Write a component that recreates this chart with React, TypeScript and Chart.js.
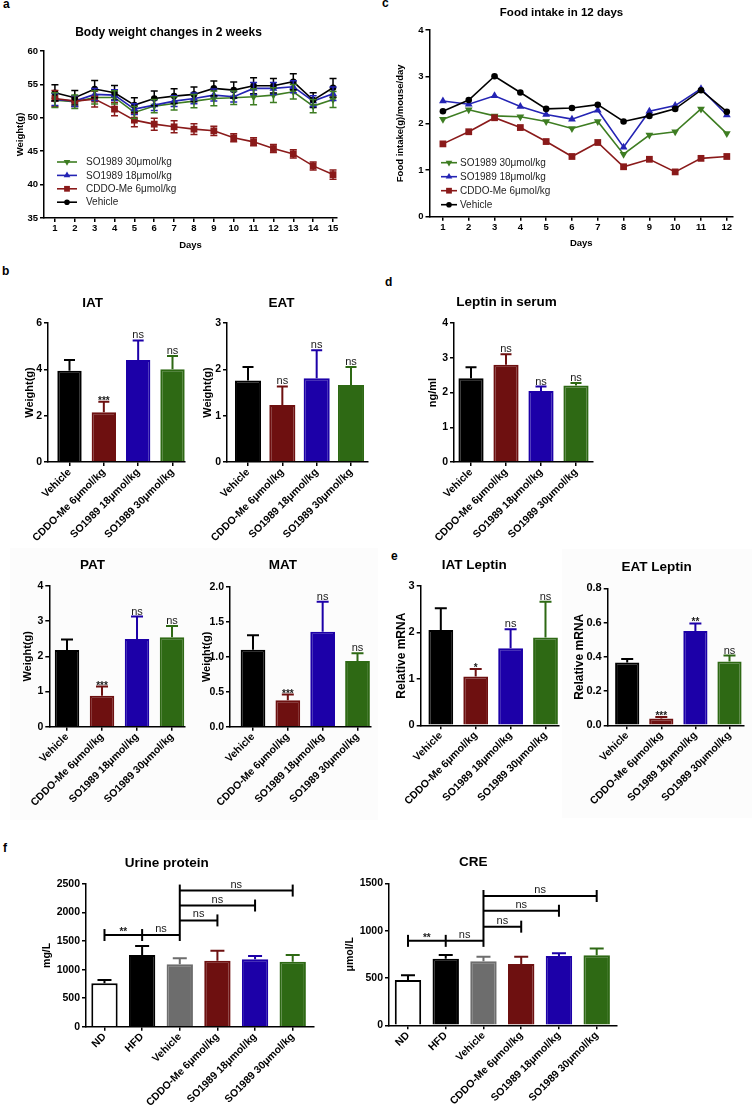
import React, { useEffect, useRef } from 'react';
import { Chart, registerables } from 'chart.js';
import { drawPoint } from 'chart.js/helpers';

Chart.register(...registerables);

const FONT = "'Liberation Sans', Arial, Helvetica, sans-serif";

// ---------------- data ----------------
const seriesNames = ['Vehicle', 'CDDO-Me 6μmol/kg', 'SO1989 18μmol/kg', 'SO1989 30μmol/kg'];
const lineColors = ['#000000', '#8a1a1a', '#2424b4', '#3e7d22'];
const pointStyles = ['circle', 'rect', 'triangle', 'triangle'];
const pointRotations = [0, 0, 0, 180];
const pointRadii = [3.3, 4.8, 4.5, 4.5];

// a: body weight (g), days 1-15, mean and SEM
const days15 = [1, 2, 3, 4, 5, 6, 7, 8, 9, 10, 11, 12, 13, 14, 15];
const bwVehicle = [53.75, 53.0, 54.3, 53.75, 51.9, 52.9, 53.25, 53.5, 54.4, 54.15, 54.8, 54.8, 55.4, 52.65, 54.5];
const bwVehicleErr = [1.2, 1.1, 1.3, 1.1, 1.1, 1.1, 1.1, 1.1, 1.1, 1.2, 1.2, 1.1, 1.2, 1.1, 1.4];
const bwCddo = [52.9, 52.5, 52.8, 51.3, 49.65, 49.05, 48.65, 48.3, 48.05, 47.0, 46.4, 45.4, 44.6, 42.8, 41.5];
const bwCddoErr = [1.2, 0.8, 1.2, 1.0, 1.0, 0.9, 0.9, 0.8, 0.7, 0.6, 0.6, 0.6, 0.6, 0.6, 0.7];
const bwSo18 = [52.75, 52.5, 53.5, 53.4, 51.3, 51.9, 52.5, 52.9, 53.4, 53.15, 54.4, 54.4, 54.65, 52.5, 53.6];
const bwSo18Err = [0.9, 0.8, 0.9, 0.8, 0.8, 0.8, 0.8, 0.8, 0.9, 0.8, 0.9, 0.9, 0.9, 0.8, 1.0];
const bwSo30 = [52.65, 52.4, 53.05, 53.05, 50.8, 51.75, 52.15, 52.5, 52.9, 53.0, 53.15, 53.4, 53.9, 51.75, 52.75];
const bwSo30Err = [1.1, 1.0, 1.0, 1.0, 0.9, 1.0, 1.0, 1.0, 1.1, 1.0, 1.2, 1.1, 1.1, 1.0, 1.2];
const bwTicks = [35, 40, 45, 50, 55, 60];

// c: food intake (g/mouse/day), days 1-12
const days12 = [1, 2, 3, 4, 5, 6, 7, 8, 9, 10, 11, 12];
const fiVehicle = [2.26, 2.5, 3.01, 2.66, 2.31, 2.33, 2.4, 2.04, 2.16, 2.31, 2.71, 2.25];
const fiCddo = [1.56, 1.82, 2.12, 1.91, 1.61, 1.29, 1.59, 1.07, 1.23, 0.96, 1.25, 1.29];
const fiSo18 = [2.48, 2.41, 2.59, 2.36, 2.19, 2.09, 2.28, 1.49, 2.26, 2.38, 2.74, 2.18];
const fiSo30 = [2.09, 2.29, 2.16, 2.14, 2.04, 1.89, 2.04, 1.34, 1.75, 1.82, 2.31, 1.78];
const fiTicks = [0, 1, 2, 3, 4];

// b, d, e: four treatment groups
const groups4 = ['Vehicle', 'CDDO-Me 6μmol/kg', 'SO1989 18μmol/kg', 'SO1989 30μmol/kg'];
const fill4 = ['#000000', '#6e1010', '#1c00a8', '#2e6914'];

const iatMean = [3.94, 2.15, 4.4, 4.0];
const iatSem = [0.46, 0.45, 0.85, 0.58];
const iatSig = ['', '***', 'ns', 'ns'];
const iatTicks = [0, 2, 4, 6];

const eatMean = [1.76, 1.23, 1.81, 1.66];
const eatSem = [0.29, 0.4, 0.6, 0.39];
const eatSig = ['', 'ns', 'ns', 'ns'];
const eatTicks = [0, 1, 2, 3];

const leptinMean = [2.41, 2.8, 2.04, 2.2];
const leptinSem = [0.32, 0.3, 0.13, 0.07];
const leptinSig = ['', 'ns', 'ns', 'ns'];
const leptinTicks = [0, 1, 2, 3, 4];

const patMean = [2.18, 0.88, 2.49, 2.54];
const patSem = [0.3, 0.26, 0.64, 0.32];
const patSig = ['', '***', 'ns', 'ns'];
const patTicks = [0, 1, 2, 3, 4];

const matMean = [1.1, 0.38, 1.36, 0.94];
const matSem = [0.21, 0.08, 0.43, 0.11];
const matSig = ['', '***', 'ns', 'ns'];
const matTicks = [0, 0.5, 1.0, 1.5, 2.0];

const iatLepMean = [2.05, 1.05, 1.66, 1.89];
const iatLepSem = [0.47, 0.16, 0.41, 0.77];
const iatLepSig = ['', '*', 'ns', 'ns'];
const iatLepTicks = [0, 1, 2, 3];

const eatLepMean = [0.366, 0.04, 0.55, 0.372];
const eatLepSem = [0.021, 0.008, 0.045, 0.035];
const eatLepSig = ['', '***', '**', 'ns'];
const eatLepTicks = [0, 0.2, 0.4, 0.6, 0.8];

// f: six groups
const groups6 = ['ND', 'HFD', 'Vehicle', 'CDDO-Me 6μmol/kg', 'SO1989 18μmol/kg', 'SO1989 30μmol/kg'];
const fill6 = ['#ffffff', '#000000', '#6d6d6d', '#6e1010', '#1c00a8', '#2e6914'];
const border6 = ['#000000', '#000000', '#6d6d6d', '#6e1010', '#1c00a8', '#2e6914'];

const urineMean = [760, 1256, 1093, 1157, 1180, 1139];
const urineSem = [58, 158, 107, 175, 58, 117];
const urineTicks = [0, 500, 1000, 1500, 2000, 2500];
// [from group, to group, height, label]
const urineBrackets: [number, number, number, string][] = [
  [0, 1, 1606, '**'],
  [1, 2, 1606, 'ns'],
  [2, 3, 1862, 'ns'],
  [2, 4, 2123, 'ns'],
  [2, 5, 2385, 'ns'],
];

const creMean = [479, 704, 676, 648, 732, 739];
const creSem = [49, 39, 49, 77, 28, 71];
const creTicks = [0, 500, 1000, 1500];
const creBrackets: [number, number, number, string][] = [
  [0, 1, 892, '**'],
  [1, 2, 892, 'ns'],
  [2, 3, 1042, 'ns'],
  [2, 4, 1210, 'ns'],
  [2, 5, 1366, 'ns'],
];

// ---------------- plugins ----------------
const errorBarsPlugin = {
  id: 'errorBars',
  afterDatasetsDraw(chart: any) {
    const ctx = chart.ctx;
    chart.data.datasets.forEach((ds: any, di: number) => {
      if (!ds.errors) return;
      const meta = chart.getDatasetMeta(di);
      const ys = chart.scales[meta.yAxisID];
      meta.data.forEach((el: any, i: number) => {
        const err = ds.errors[i];
        if (err == null) return;
        const v = meta.controller.getParsed(i).y;
        const x = el.x;
        const yTop = ys.getPixelForValue(v + err);
        const yBot = ys.getPixelForValue(ds.errorBoth ? v - err : v);
        const color = Array.isArray(ds.errorColor) ? ds.errorColor[i] : ds.errorColor;
        const cap = ds.errorCap;
        ctx.save();
        ctx.strokeStyle = color;
        ctx.lineWidth = ds.errorWidth;
        ctx.beginPath();
        ctx.moveTo(x, yTop);
        ctx.lineTo(x, yBot);
        ctx.moveTo(x - cap, yTop);
        ctx.lineTo(x + cap, yTop);
        if (ds.errorBoth) {
          ctx.moveTo(x - cap, yBot);
          ctx.lineTo(x + cap, yBot);
        }
        ctx.stroke();
        ctx.restore();
      });
    });
  },
};

const sigPlugin = {
  id: 'sigLabels',
  afterDatasetsDraw(chart: any) {
    const ctx = chart.ctx;
    chart.data.datasets.forEach((ds: any, di: number) => {
      if (!ds.sig) return;
      const meta = chart.getDatasetMeta(di);
      const ys = chart.scales[meta.yAxisID];
      meta.data.forEach((el: any, i: number) => {
        const s = ds.sig[i];
        if (!s) return;
        const v = meta.controller.getParsed(i).y + (ds.errors ? ds.errors[i] : 0);
        const y = ys.getPixelForValue(v);
        ctx.save();
        ctx.fillStyle = '#1a1a1a';
        ctx.textAlign = 'center';
        ctx.textBaseline = 'alphabetic';
        if (s === 'ns') {
          ctx.font = `11px ${FONT}`;
          ctx.fillText(s, el.x, y - 2);
        } else {
          ctx.font = `bold 10px ${FONT}`;
          ctx.fillText(s, el.x, y + 2);
        }
        ctx.restore();
      });
    });
  },
};

const bracketsPlugin = {
  id: 'sigBrackets',
  afterDatasetsDraw(chart: any) {
    const opts = chart.options.plugins.sigBrackets;
    if (!opts || !opts.items) return;
    const items = opts.items as [number, number, number, string][];
    const ctx = chart.ctx;
    const xs = chart.scales.x;
    const ys = chart.scales.y;
    const cap = 6;
    const ends: Record<string, number[]> = {};
    ctx.save();
    ctx.strokeStyle = '#000';
    ctx.lineWidth = 2;
    items.forEach(([a, b, v, label]) => {
      const x1 = xs.getPixelForValue(a);
      const x2 = xs.getPixelForValue(b);
      const y = ys.getPixelForValue(v);
      ctx.beginPath();
      ctx.moveTo(x1, y);
      ctx.lineTo(x2, y);
      ctx.stroke();
      (ends[a] = ends[a] || []).push(y);
      (ends[b] = ends[b] || []).push(y);
      ctx.fillStyle = '#1a1a1a';
      ctx.textAlign = 'center';
      ctx.textBaseline = 'alphabetic';
      if (label === 'ns') {
        ctx.font = `11px ${FONT}`;
        ctx.fillText(label, (x1 + x2) / 2, y - 3);
      } else {
        ctx.font = `bold 10px ${FONT}`;
        ctx.fillText(label, (x1 + x2) / 2, y + 0);
      }
    });
    Object.keys(ends).forEach((k) => {
      const arr = ends[k];
      const x = xs.getPixelForValue(Number(k));
      ctx.beginPath();
      ctx.moveTo(x, Math.min(...arr) - cap);
      ctx.lineTo(x, Math.max(...arr) + cap);
      ctx.stroke();
    });
    ctx.restore();
  },
};

const legendPlugin = {
  id: 'inlineLegend',
  afterDraw(chart: any) {
    const opts = chart.options.plugins.inlineLegend;
    if (!opts || opts.x == null) return;
    const { ctx, chartArea } = chart;
    const n = chart.data.datasets.length;
    for (let row = 0; row < n; row++) {
      const ds = chart.data.datasets[n - 1 - row];
      const y = chartArea.top + opts.y + row * opts.dy;
      const x0 = chartArea.left + opts.x;
      ctx.save();
      ctx.strokeStyle = ds.borderColor;
      ctx.lineWidth = ds.borderWidth;
      ctx.beginPath();
      ctx.moveTo(x0, y);
      ctx.lineTo(x0 + opts.len, y);
      ctx.stroke();
      ctx.fillStyle = ds.borderColor;
      drawPoint(ctx, { pointStyle: ds.pointStyle, rotation: ds.pointRotation, radius: ds.pointRadius * 0.85, borderWidth: 0 } as any, x0 + opts.len / 2, y);
      ctx.fillStyle = '#1e1e1e';
      ctx.font = `${opts.size}px ${FONT}`;
      ctx.textAlign = 'left';
      ctx.textBaseline = 'middle';
      ctx.fillText(ds.label, chartArea.left + opts.textX, y + 0.5);
      ctx.restore();
    }
  },
};

// ---------------- layout helpers ----------------
type Box = {
  left: number; top: number; width: number; height: number;
  plotL: number; plotR: number; plotT: number; plotB: number;
  titleY: number; titleSize: number;
  yTitleX: number; yTitleSize: number;
  xTitleY?: number; xTitleSize?: number;
};

type AxisCfg = {
  title: string; yTitle: string; xTitle?: string;
  xMin: number; xMax: number; xTicks: number[]; xLabel: (v: number) => string;
  xRotate: number; xTickSize: number;
  yTicks: number[]; yDec: number; yTickSize: number;
};

const fnt = (size: number, bold = true) => ({ family: FONT, size, weight: bold ? 'bold' : 'normal', lineHeight: 1.2 });

function baseOptions(b: Box, o: AxisCfg): any {
  const tlh = b.titleSize * 1.2;
  const ylh = b.yTitleSize * 1.2;
  const xlh = (b.xTitleSize || 10) * 1.2;
  const gridOpts = { display: true, drawOnChartArea: false, drawTicks: true, tickLength: 4, color: '#000', lineWidth: 1.5, offset: false };
  const borderOpts = { display: true, color: '#000', width: 1.5 };
  return {
    responsive: false,
    maintainAspectRatio: false,
    animation: false,
    devicePixelRatio: 1,
    events: [],
    layout: { padding: { left: 0, top: 0, bottom: 0, right: b.left + b.width - b.plotR } },
    plugins: {
      legend: { display: false },
      tooltip: { enabled: false },
      title: {
        display: true, text: o.title, color: '#000', font: fnt(b.titleSize),
        padding: { top: b.titleY - b.top - tlh / 2, bottom: b.plotT - b.titleY - tlh / 2 },
      },
    },
    scales: {
      x: {
        type: 'linear', min: o.xMin, max: o.xMax, offset: false,
        afterBuildTicks: (s: any) => { s.ticks = o.xTicks.map((v) => ({ value: v })); },
        afterFit: (s: any) => { s.height = b.top + b.height - b.plotB; },
        grid: gridOpts,
        border: borderOpts,
        ticks: {
          autoSkip: false, minRotation: o.xRotate, maxRotation: o.xRotate, padding: o.xRotate ? 0 : 1,
          color: '#000', font: fnt(o.xTickSize), callback: (v: any) => o.xLabel(Number(v)),
        },
        title: o.xTitle
          ? { display: true, text: o.xTitle, color: '#000', font: fnt(b.xTitleSize || 10), padding: { top: 0, bottom: b.top + b.height - (b.xTitleY || 0) - xlh / 2 } }
          : { display: false },
      },
      y: {
        type: 'linear', min: o.yTicks[0], max: o.yTicks[o.yTicks.length - 1],
        afterBuildTicks: (s: any) => { s.ticks = o.yTicks.map((v) => ({ value: v })); },
        afterFit: (s: any) => { s.width = b.plotL - b.left; },
        grid: gridOpts,
        border: borderOpts,
        ticks: { padding: 2, color: '#000', font: fnt(o.yTickSize), callback: (v: any) => Number(v).toFixed(o.yDec) },
        title: {
          display: true, text: o.yTitle, color: '#000', font: fnt(b.yTitleSize),
          padding: { top: b.yTitleX - b.left - ylh / 2, bottom: 0 },
        },
      },
    },
  };
}

function lineConfig(b: Box, o: AxisCfg, days: number[], series: number[][], errors: number[][] | null, legend: any) {
  const datasets = series.map((d, k) => ({
    label: seriesNames[k],
    data: d.map((v, i) => ({ x: days[i], y: v })),
    borderColor: lineColors[k],
    backgroundColor: lineColors[k],
    pointBackgroundColor: lineColors[k],
    pointBorderColor: lineColors[k],
    pointStyle: pointStyles[k],
    pointRotation: pointRotations[k],
    pointRadius: pointRadii[k],
    pointBorderWidth: 0,
    borderWidth: 1.6,
    tension: 0,
    clip: false,
    errors: errors ? errors[k] : undefined,
    errorBoth: true,
    errorColor: lineColors[k],
    errorWidth: 1.5,
    errorCap: 3.5,
  }));
  const options = baseOptions(b, o);
  options.plugins.inlineLegend = legend;
  return { type: 'line', data: { datasets }, options, plugins: [errorBarsPlugin, legendPlugin] };
}

function barConfig(
  b: Box, o: AxisCfg, means: number[], sems: number[], sigs: string[] | null,
  fills: string[], borders: string[], barPct: number, cap: number,
  brackets?: [number, number, number, string][],
) {
  const datasets = [{
    data: means.map((v, i) => ({ x: i, y: v })),
    backgroundColor: fills,
    borderColor: borders,
    borderWidth: 2,
    barPercentage: barPct,
    categoryPercentage: 1,
    errors: sems,
    errorBoth: false,
    errorColor: borders,
    errorWidth: 2,
    errorCap: cap,
    sig: sigs,
  }];
  const options = baseOptions(b, o);
  if (brackets) options.plugins.sigBrackets = { items: brackets };
  return { type: 'bar', data: { datasets }, options, plugins: [errorBarsPlugin, sigPlugin, bracketsPlugin] };
}

// ---------------- panels ----------------
type PanelDef = { box: Box; make: () => any };

const g4 = (v: number) => groups4[v] ?? '';
const g6 = (v: number) => groups6[v] ?? '';
const dayLabel = (v: number) => String(v);

const panels: PanelDef[] = [
  {
    box: { left: 0, top: 20, width: 386, height: 235, plotL: 44, plotR: 337, plotT: 51, plotB: 218, titleY: 33, titleSize: 12, yTitleX: 20, yTitleSize: 9.5, xTitleY: 245, xTitleSize: 9.5 },
    make() {
      return lineConfig(this.box, {
        title: 'Body weight changes in 2 weeks', yTitle: 'Weight(g)', xTitle: 'Days',
        xMin: 0.45, xMax: 15.2, xTicks: days15, xLabel: dayLabel, xRotate: 0, xTickSize: 9.5,
        yTicks: bwTicks, yDec: 0, yTickSize: 9.5,
      }, days15, [bwVehicle, bwCddo, bwSo18, bwSo30], [bwVehicleErr, bwCddoErr, bwSo18Err, bwSo30Err],
      { x: 13, y: 111, dy: 13.4, len: 20, textX: 42, size: 10 });
    },
  },
  {
    box: { left: 390, top: 0, width: 390, height: 253, plotL: 429.5, plotR: 733, plotT: 30, plotB: 216.7, titleY: 13, titleSize: 11.5, yTitleX: 400, yTitleSize: 9.5, xTitleY: 243, xTitleSize: 9.5 },
    make() {
      return lineConfig(this.box, {
        title: 'Food intake in 12 days', yTitle: 'Food intake(g)/mouse/day', xTitle: 'Days',
        xMin: 0.48, xMax: 12.24, xTicks: days12, xLabel: dayLabel, xRotate: 0, xTickSize: 9.5,
        yTicks: fiTicks, yDec: 0, yTickSize: 9.5,
      }, days12, [fiVehicle, fiCddo, fiSo18, fiSo30], null,
      { x: 11.5, y: 132.7, dy: 14, len: 16, textX: 30.5, size: 10 });
    },
  },
  {
    box: { left: 0, top: 290, width: 242, height: 265, plotL: 48, plotR: 185, plotT: 323, plotB: 462, titleY: 303, titleSize: 13.5, yTitleX: 30, yTitleSize: 11 },
    make() {
      return barConfig(this.box, {
        title: 'IAT', yTitle: 'Weight(g)', xMin: -0.626, xMax: 3.364, xTicks: [0, 1, 2, 3], xLabel: g4, xRotate: 45, xTickSize: 10.5,
        yTicks: iatTicks, yDec: 0, yTickSize: 10.5,
      }, iatMean, iatSem, iatSig, fill4, fill4, 0.71, 5.5);
    },
  },
  {
    box: { left: 195, top: 290, width: 210, height: 265, plotL: 227, plotR: 368, plotT: 323, plotB: 462, titleY: 303, titleSize: 13.5, yTitleX: 208, yTitleSize: 11 },
    make() {
      return barConfig(this.box, {
        title: 'EAT', yTitle: 'Weight(g)', xMin: -0.612, xMax: 3.495, xTicks: [0, 1, 2, 3], xLabel: g4, xRotate: 45, xTickSize: 10.5,
        yTicks: eatTicks, yDec: 0, yTickSize: 10.5,
      }, eatMean, eatSem, eatSig, fill4, fill4, 0.76, 5.5);
    },
  },
  {
    box: { left: 420, top: 290, width: 206, height: 265, plotL: 454, plotR: 593, plotT: 323, plotB: 462, titleY: 302, titleSize: 13.5, yTitleX: 433, yTitleSize: 11 },
    make() {
      return barConfig(this.box, {
        title: 'Leptin in serum', yTitle: 'ng/ml', xMin: -0.486, xMax: 3.486, xTicks: [0, 1, 2, 3], xLabel: g4, xRotate: 45, xTickSize: 10.5,
        yTicks: leptinTicks, yDec: 0, yTickSize: 10.5,
      }, leptinMean, leptinSem, leptinSig, fill4, fill4, 0.72, 5.5);
    },
  },
  {
    box: { left: 0, top: 552, width: 240, height: 263, plotL: 49.3, plotR: 185, plotT: 586, plotB: 726.7, titleY: 565, titleSize: 13.5, yTitleX: 28, yTitleSize: 11 },
    make() {
      return barConfig(this.box, {
        title: 'PAT', yTitle: 'Weight(g)', xMin: -0.506, xMax: 3.371, xTicks: [0, 1, 2, 3], xLabel: g4, xRotate: 45, xTickSize: 10.5,
        yTicks: patTicks, yDec: 0, yTickSize: 10.5,
      }, patMean, patSem, patSig, fill4, fill4, 0.7, 6);
    },
  },
  {
    box: { left: 195, top: 552, width: 214, height: 263, plotL: 230, plotR: 370.7, plotT: 587, plotB: 726.7, titleY: 565, titleSize: 13.5, yTitleX: 207, yTitleSize: 11 },
    make() {
      return barConfig(this.box, {
        title: 'MAT', yTitle: 'Weight(g)', xMin: -0.66, xMax: 3.379, xTicks: [0, 1, 2, 3], xLabel: g4, xRotate: 45, xTickSize: 10.5,
        yTicks: matTicks, yDec: 1, yTickSize: 10.5,
      }, matMean, matSem, matSig, fill4, fill4, 0.71, 6);
    },
  },
  {
    box: { left: 390, top: 552, width: 207, height: 263, plotL: 420.7, plotR: 558.3, plotT: 586, plotB: 725.3, titleY: 565, titleSize: 13.5, yTitleX: 402, yTitleSize: 12 },
    make() {
      return barConfig(this.box, {
        title: 'IAT Leptin', yTitle: 'Relative mRNA', xMin: -0.576, xMax: 3.367, xTicks: [0, 1, 2, 3], xLabel: g4, xRotate: 45, xTickSize: 10.5,
        yTicks: iatLepTicks, yDec: 0, yTickSize: 11,
      }, iatLepMean, iatLepSem, iatLepSig, fill4, fill4, 0.71, 6);
    },
  },
  {
    box: { left: 570, top: 552, width: 216, height: 263, plotL: 607.7, plotR: 743.3, plotT: 588.3, plotB: 725.3, titleY: 567, titleSize: 13.5, yTitleX: 580, yTitleSize: 12 },
    make() {
      return barConfig(this.box, {
        title: 'EAT Leptin', yTitle: 'Relative mRNA', xMin: -0.572, xMax: 3.405, xTicks: [0, 1, 2, 3], xLabel: g4, xRotate: 45, xTickSize: 10.5,
        yTicks: eatLepTicks, yDec: 1, yTickSize: 11,
      }, eatLepMean, eatLepSem, eatLepSig, fill4, fill4, 0.71, 6);
    },
  },
  {
    box: { left: 20, top: 850, width: 366, height: 263, plotL: 86, plotR: 313.3, plotT: 884, plotB: 1026.7, titleY: 863, titleSize: 13.5, yTitleX: 47, yTitleSize: 10.5 },
    make() {
      return barConfig(this.box, {
        title: 'Urine protein', yTitle: 'mg/L', xMin: -0.491, xMax: 5.547, xTicks: [0, 1, 2, 3, 4, 5], xLabel: g6, xRotate: 45, xTickSize: 10.5,
        yTicks: urineTicks, yDec: 0, yTickSize: 10.5,
      }, urineMean, urineSem, null, fill6, border6, 0.7, 7, urineBrackets);
    },
  },
  {
    box: { left: 330, top: 849, width: 344, height: 264, plotL: 389, plotR: 616.7, plotT: 883.3, plotB: 1025.3, titleY: 862, titleSize: 13.5, yTitleX: 350, yTitleSize: 10.5 },
    make() {
      return barConfig(this.box, {
        title: 'CRE', yTitle: 'μmol/L', xMin: -0.503, xMax: 5.53, xTicks: [0, 1, 2, 3, 4, 5], xLabel: g6, xRotate: 45, xTickSize: 10.5,
        yTicks: creTicks, yDec: 0, yTickSize: 10.5,
      }, creMean, creSem, null, fill6, border6, 0.7, 7, creBrackets);
    },
  },
];

const panelLetters: [string, number, number][] = [
  ['a', 3, 8],
  ['b', 2, 275],
  ['c', 382, 7],
  ['d', 385, 286],
  ['e', 391, 560],
  ['f', 3, 852],
];

function ChartPanel({ def }: { def: PanelDef }) {
  const ref = useRef<HTMLCanvasElement>(null);
  useEffect(() => {
    if (!ref.current) return;
    const chart = new Chart(ref.current, def.make() as any);
    return () => chart.destroy();
  }, [def]);
  const b = def.box;
  return (
    <canvas
      ref={ref}
      width={b.width}
      height={b.height}
      style={{ position: 'absolute', left: b.left, top: b.top, width: b.width, height: b.height }}
    />
  );
}

export default function App() {
  return (
    <div
      style={{
        position: 'absolute', left: 0, top: 0, width: 752, height: 1113,
        overflow: 'hidden', background: '#ffffff', fontFamily: FONT,
      }}
    >
      <div style={{ position: 'absolute', left: 10, top: 548, width: 368, height: 272, background: '#fcfcfc' }} />
      <div style={{ position: 'absolute', left: 562, top: 549, width: 190, height: 269, background: '#fcfcfc' }} />
      {panelLetters.map(([t, x, base]) => (
        <div
          key={t}
          style={{ position: 'absolute', left: x, top: base - 10, fontSize: 12, lineHeight: '12px', fontWeight: 'bold', color: '#000' }}
        >
          {t}
        </div>
      ))}
      {panels.map((p, i) => (
        <ChartPanel key={i} def={p} />
      ))}
    </div>
  );
}
